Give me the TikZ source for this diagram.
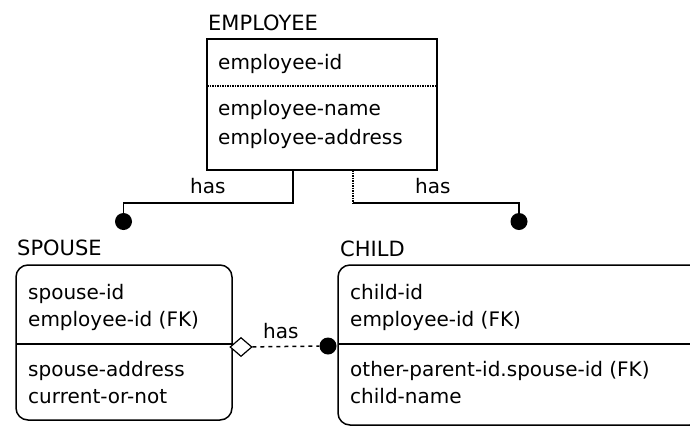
\documentclass[tikz,border=0pt]{standalone}
\usepackage{fontspec}
\setmainfont{DejaVu Sans}
\usetikzlibrary{shapes.geometric}
\begin{document}
\begin{tikzpicture}[x=1pt,y=-1pt,
  txt/.style={anchor=base west, inner sep=0pt, font=\fontsize{20}{24}\selectfont},
  ttl/.style={anchor=base west, inner sep=0pt, font=\fontsize{21}{25}\selectfont},
  entity/.style={draw, line width=1.5pt, inner sep=0pt},
  conn/.style={line width=1.5pt},
  sep/.style={line width=1.5pt},
  dot/.style={circle, fill=black, inner sep=0pt, minimum size=17pt},
  dia/.style={diamond, draw, line width=1.2pt, fill=white, inner sep=0pt, minimum width=22pt, minimum height=19pt}]
\useasboundingbox (0,0) rectangle (690,429);
\fill[white] (0,0) rectangle (690,429);
\clip (0,0) rectangle (690,429);

% entity boxes
\node[entity, minimum width=230pt, minimum height=131pt] (emp) at (322,104.5) {};
\node[entity, rounded corners=12pt, minimum width=216pt, minimum height=155pt] (spouse) at (124,342.5) {};
\node[entity, rounded corners=12pt, minimum width=364pt, minimum height=160pt] (child) at (520,345) {};

% key separators
\draw[sep, densely dotted] (207,86) -- (437,86);
\draw[sep] (16,344) -- (232,344);
\draw[sep] (338,344) -- (702,344);

% titles
\node[ttl] (tEmp) at (208,30) {EMPLOYEE};
\node[ttl] (tSp) at (17,255) {SPOUSE};
\node[ttl] (tCh) at (340,256) {CHILD};

% employee attributes
\node[txt] (e_a1) at (218,69) {employee-id};
\node[txt] (e_a2) at (218,115) {employee-name};
\node[txt] (e_a3) at (218,144) {employee-address};

% spouse attributes
\node[txt] (s_a1) at (28,299) {spouse-id};
\node[txt] (s_a2) at (28,326) {employee-id (FK)};
\node[txt] (s_a3) at (28,376) {spouse-address};
\node[txt] (s_a4) at (28,403) {current-or-not};

% child attributes
\node[txt] (c_a1) at (350,299) {child-id};
\node[txt] (c_a2) at (350,326) {employee-id (FK)};
\node[txt] (c_a3) at (350,376) {other-parent-id.spouse-id (FK)};
\node[txt] (c_a4) at (350,403) {child-name};

% relationship employee -> spouse
\coordinate (e1) at (293,170);
\coordinate (j1) at (293,203);
\coordinate (j2) at (123.5,203);
\node[dot] (d1) at (123.5,221.5) {};
\draw[conn] (e1) -- (j1) -- (j2) -- (d1);
\node[txt] (h1) at (190,193) {has};

% relationship employee -> child
\coordinate (e2) at (353,170);
\coordinate (k1) at (353,203);
\coordinate (k2) at (519,203);
\node[dot] (d2) at (519,221.5) {};
\draw[conn, densely dotted] (e2) -- (k1);
\draw[conn] (k1) -- (k2) -- (d2);
\node[txt] (h2) at (415,193) {has};

% relationship spouse -> child
\node[dia] (dm) at (241,347) {};
\node[dot] (d3) at (328,346) {};
\draw[conn, dash pattern=on 4pt off 4pt] (dm) -- (d3);
\node[txt] (h3) at (263,338) {has};
\end{tikzpicture}
\end{document}
